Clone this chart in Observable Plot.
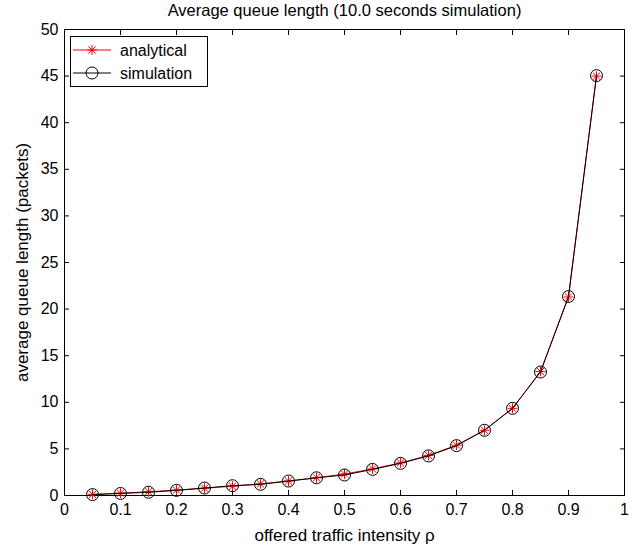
<!DOCTYPE html>
<html>
<head>
<meta charset="utf-8">
<script src="https://cdn.jsdelivr.net/npm/d3@7"></script>
<script src="https://cdn.jsdelivr.net/npm/@observablehq/plot@0.6"></script>
<style>
  html, body { margin: 0; padding: 0; background: #fff; }
  #chart { width: 639px; height: 551px; overflow: hidden; }
</style>
</head>
<body>
<div id="chart"></div>
<script>
// ---- data ----
const rho = [0.05, 0.10, 0.15, 0.20, 0.25, 0.30, 0.35, 0.40, 0.45, 0.50,
             0.55, 0.60, 0.65, 0.70, 0.75, 0.80, 0.85, 0.90, 0.95];
const analytical = [0.12, 0.25, 0.4, 0.58, 0.78, 1.0, 1.25, 1.55, 1.9, 2.3,
                    2.85, 3.5, 4.3, 5.4, 7.0, 9.35, 13.3, 21.3, 45.0];
const simulation = [0.1, 0.22, 0.35, 0.55, 0.8, 1.05, 1.2, 1.55, 1.9, 2.2,
                    2.8, 3.45, 4.25, 5.35, 7.0, 9.35, 13.25, 21.35, 45.05];
const xTicks = [0, 0.1, 0.2, 0.3, 0.4, 0.5, 0.6, 0.7, 0.8, 0.9, 1];
const yTicks = [0, 5, 10, 15, 20, 25, 30, 35, 40, 45, 50];
const titleText = "Average queue length (10.0 seconds simulation)";
const xLabel = "offered traffic intensity ρ";
const yLabel = "average queue length (packets)";
const seriesNames = ["analytical", "simulation"];

const data = rho.map((r, i) => ({rho: r, a: analytical[i], s: simulation[i]}));

// MATLAB-style asterisk marker (+ and x combined)
const asterisk = {
  draw(ctx, size) {
    const r = Math.sqrt(size / Math.PI);
    const d = r * Math.SQRT1_2;
    ctx.moveTo(-r, 0); ctx.lineTo(r, 0);
    ctx.moveTo(0, -r); ctx.lineTo(0, r);
    ctx.moveTo(-d, -d); ctx.lineTo(d, d);
    ctx.moveTo(-d, d); ctx.lineTo(d, -d);
  }
};

const fmt = d => String(d);
const font = "Liberation Sans, Arial, Helvetica, sans-serif";

const svg = Plot.plot({
  width: 639,
  height: 551,
  marginLeft: 64,
  marginRight: 15,
  marginTop: 29,
  marginBottom: 56,
  style: {fontFamily: font, fontSize: "16px", background: "white", color: "black", overflow: "visible"},
  x: {domain: [0, 1], label: null},
  y: {domain: [0, 50], label: null},
  marks: [
    Plot.frame({stroke: "black", strokeWidth: 1}),
    // inward ticks on all four sides
    Plot.axisX({anchor: "bottom", ticks: xTicks, tickSize: 5, dy: -5, tickFormat: () => ""}),
    Plot.axisX({anchor: "top", ticks: xTicks, tickSize: 5, dy: 5, tickFormat: () => ""}),
    Plot.axisY({anchor: "left", ticks: yTicks, tickSize: 5, dx: 5, tickFormat: () => ""}),
    Plot.axisY({anchor: "right", ticks: yTicks, tickSize: 5, dx: -5, tickFormat: () => ""}),
    // tick labels
    Plot.axisX({anchor: "bottom", ticks: xTicks, tickSize: 0, tickPadding: 8, tickFormat: fmt, fontSize: 16}),
    Plot.axisY({anchor: "left", ticks: yTicks, tickSize: 0, tickPadding: 6, tickFormat: fmt, fontSize: 16}),
    // series
    Plot.line(data, {x: "rho", y: "a", stroke: "red", strokeWidth: 1}),
    Plot.dot(data, {x: "rho", y: "a", symbol: asterisk, r: 5, stroke: "red", fill: "none", strokeWidth: 1}),
    Plot.line(data, {x: "rho", y: "s", stroke: "black", strokeWidth: 1}),
    Plot.dot(data, {x: "rho", y: "s", symbol: "circle", r: 6, stroke: "black", fill: "none", strokeWidth: 1}),
    // texts
    Plot.text([titleText], {frameAnchor: "top", lineAnchor: "middle", textAnchor: "middle", dy: -18.5, fontSize: 16.5}),
    Plot.text([xLabel], {frameAnchor: "bottom", lineAnchor: "middle", textAnchor: "middle", dy: 40, fontSize: 17}),
    Plot.text([yLabel], {frameAnchor: "left", lineAnchor: "middle", textAnchor: "middle", dx: -42, rotate: -90, fontSize: 17})
  ]
});

document.getElementById("chart").appendChild(svg);

// legend box (MATLAB style, top-left inside the axes)
const g = d3.select(svg).append("g")
  .attr("font-family", font).attr("font-size", 16).attr("text-anchor", "start");
g.append("rect").attr("x", 70.5).attr("y", 36.5).attr("width", 137).attr("height", 50)
  .attr("fill", "white").attr("stroke", "black").attr("stroke-width", 1);
const rows = [
  {y: 50, stroke: "red", sym: d3.symbol(asterisk, 25 * Math.PI)},
  {y: 73, stroke: "black", sym: d3.symbol(d3.symbolCircle, 36 * Math.PI)}
];
rows.forEach((row, i) => {
  g.append("line").attr("x1", 73).attr("x2", 111).attr("y1", row.y).attr("y2", row.y)
    .attr("stroke", row.stroke).attr("stroke-width", 1);
  g.append("path").attr("d", row.sym()).attr("transform", `translate(92,${row.y})`)
    .attr("stroke", row.stroke).attr("fill", "none").attr("stroke-width", 1);
  g.append("text").attr("x", 120).attr("y", row.y + 6).attr("text-anchor", "start")
    .attr("fill", "black").text(seriesNames[i]);
});
</script>
</body>
</html>
